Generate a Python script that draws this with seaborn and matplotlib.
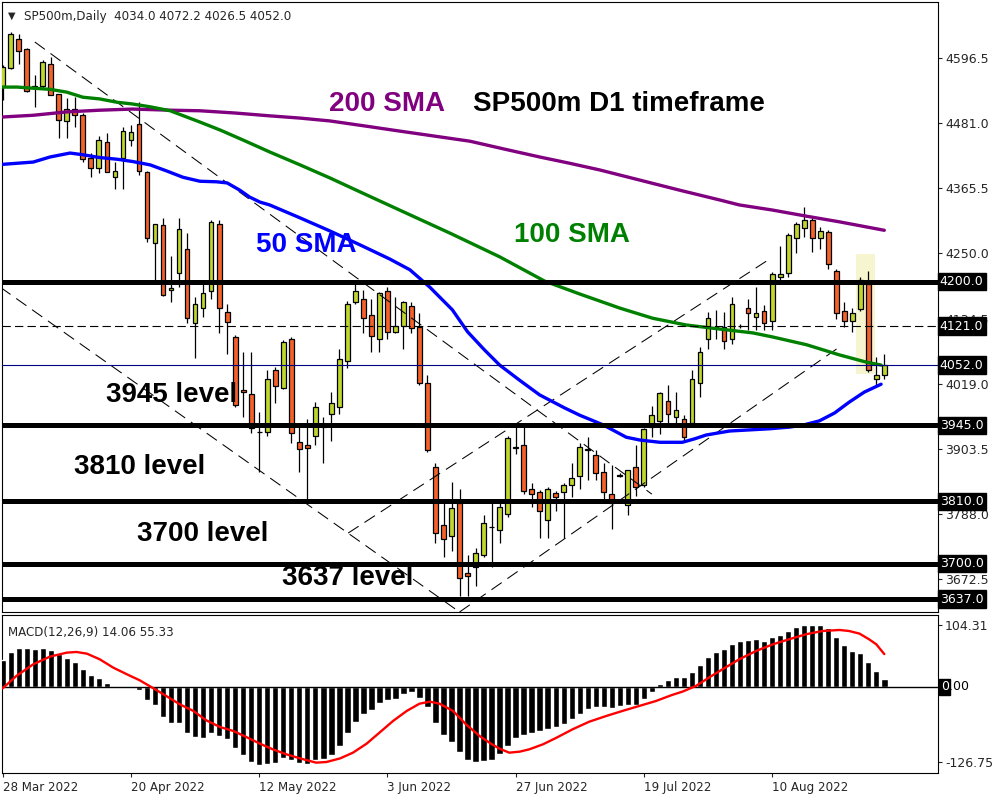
import numpy as np
import pandas as pd
import matplotlib
matplotlib.use("Agg")
import matplotlib.pyplot as plt
import seaborn as sns
from matplotlib.transforms import blended_transform_factory

# daily candles, bar index 0 = 28 Mar 2022
OPEN = [4547, 4579, 4630, 4612, 4547, 4547, 4586, 4532, 4484, 4506,
        4495, 4419, 4401, 4447, 4385, 4419, 4452, 4479, 4394, 4268,
        4300, 4185, 4216, 4257, 4126, 4154, 4183, 4302, 4146, 4101,
        4007, 4000, 3934, 3933, 4043, 4012, 4098, 3915, 3911, 3927,
        3943, 3966, 3977, 4059, 4163, 4169, 4140, 4098, 4183, 4110,
        4122, 4156, 4119, 4021, 3872, 3769, 3748, 3808, 3684, 3693,
        3715, 3764, 3759, 3787, 3906, 3910, 3833, 3826, 3778, 3825,
        3826, 3839, 3855, 3903, 3892, 3862, 3824, 3857, 3803, 3871,
        3839, 3943, 3953, 3988, 3959, 3957, 3950, 4020, 4099, 4119,
        4119, 4099, 4121, 4154, 4138, 4147, 4130, 4208, 4215, 4277,
        4295, 4309, 4277, 4288, 4218, 4147, 4130, 4151, 4195, 4027,
        4034.0]
HIGH = [4584, 4643, 4639, 4614, 4566, 4593, 4598, 4533, 4525, 4527,
        4499, 4428, 4458, 4463, 4412, 4475, 4477, 4518, 4397, 4303,
        4312, 4245, 4312, 4287, 4172, 4197, 4310, 4309, 4161, 4106,
        4075, 4075, 3968, 4043, 4048, 4096, 4101, 3945, 3956, 3986,
        3959, 4004, 4080, 4165, 4197, 4185, 4169, 4181, 4190, 4172,
        4165, 4163, 4145, 4034, 3878, 3808, 3844, 3833, 3715, 3727,
        3786, 3808, 3808, 3926, 3945, 3945, 3842, 3830, 3835, 3828,
        3842, 3878, 3913, 3924, 3901, 3879, 3874, 3860, 3865, 3910,
        3940, 3979, 4004, 4016, 4004, 3963, 4044, 4084, 4146, 4149,
        4146, 4172, 4124, 4170, 4190, 4158, 4217, 4263, 4286, 4305,
        4332, 4312, 4296, 4291, 4222, 4163, 4153, 4208, 4218, 4066,
        4072.2]
LOW = [4522, 4577, 4586, 4536, 4510, 4543, 4531, 4454, 4454, 4475,
       4412, 4385, 4392, 4394, 4365, 4365, 4440, 4389, 4270, 4202,
       4175, 4163, 4190, 4126, 4064, 4138, 4169, 4108, 4071, 3977,
       3959, 3931, 3862, 3926, 3984, 4009, 3913, 3862, 3812, 3911,
       3878, 3918, 3966, 4046, 4161, 4108, 4075, 4075, 4099, 4108,
       4080, 4108, 4016, 3897, 3736, 3711, 3723, 3643, 3642, 3661,
       3711, 3693, 3736, 3782, 3895, 3824, 3801, 3745, 3746, 3794,
       3745, 3818, 3833, 3849, 3849, 3807, 3762, 3853, 3786, 3819,
       3835, 3924, 3929, 3942, 3942, 3918, 3947, 3995, 4080, 4098,
       4080, 4090, 4118, 4114, 4114, 4115, 4115, 4202, 4208, 4250,
       4279, 4253, 4257, 4222, 4133, 4119, 4110, 4147, 4039, 4013,
       4026.5]
CLOSE = [4581, 4639, 4609, 4538, 4545, 4589, 4531, 4486, 4507, 4495,
         4417, 4401, 4451, 4394, 4396, 4467, 4465, 4396, 4277, 4302,
         4177, 4188, 4293, 4135, 4160, 4179, 4305, 4153, 4128, 3981,
         4004, 3940, 3933, 4027, 4014, 4092, 3931, 3903, 3904, 3977,
         3942, 3984, 4062, 4161, 4183, 4135, 4103, 4179, 4110, 4122,
         4163, 4117, 4020, 3901, 3755, 3743, 3798, 3675, 3677, 3718,
         3771, 3764, 3801, 3922, 3905, 3828, 3823, 3793, 3832, 3818,
         3839, 3851, 3906, 3902, 3860, 3826, 3807, 3856, 3865, 3835,
         3938, 3963, 4002, 3966, 3972, 3924, 4027, 4075, 4135, 4117,
         4094, 4160, 4121, 4145, 4144, 4126, 4213, 4213, 4282, 4303,
         4309, 4277, 4289, 4231, 4144, 4130, 4144, 4202, 4043, 4034,
         4052.0]

# moving averages (bar index, price)
SMA50_X = [0, 3.8, 5.9, 8.4, 10.0, 12.1, 14.3, 16.2, 18.4, 20.5, 22.5, 24.6,
           26.7, 28.0, 29.6, 30.8, 32.1, 33.3, 37.1, 40.8, 44.6, 48.3, 50.8,
           53.3, 56.1, 58.0, 60.1, 62.0, 64.5, 67.0, 70.1, 72.0, 74.9, 77.8,
           79.5, 82.0, 84.8, 86.3, 87.8, 90.7, 93.2, 95.7, 98.2, 100.0, 101.9,
           103.8, 105.6, 107.5, 109.6]
SMA50_Y = [4408, 4412, 4421, 4428, 4425, 4420, 4417, 4413, 4407, 4396, 4385,
           4378, 4377, 4375, 4362, 4350, 4341, 4336, 4313, 4290, 4265, 4240,
           4221, 4190, 4150, 4111, 4079, 4052, 4025, 3999, 3976, 3963, 3946,
           3924, 3919, 3915, 3915, 3921, 3928, 3935, 3937, 3939, 3942, 3946,
           3953, 3967, 3986, 4004, 4018]
SMA100_X = [0, 1.8, 3.8, 5.9, 8.0, 10.0, 12.1, 14.3, 16.2, 18.4, 20.9, 24.6,
            27.1, 30.0, 33.3, 37.1, 40.8, 44.6, 49.5, 55.8, 62.0, 67.6, 72.0,
            77.0, 81.1, 85.3, 89.4, 93.6, 96.0, 100.3, 104.4, 107.8, 109.6]
SMA100_Y = [4545, 4545, 4543, 4541, 4536, 4527, 4524, 4518, 4515, 4510, 4503,
            4483, 4469, 4451, 4430, 4407, 4384, 4359, 4327, 4286, 4244, 4201,
            4178, 4153, 4135, 4123, 4116, 4109, 4102, 4088, 4070, 4057, 4052]
SMA200_X = [0, 3.8, 8.0, 12.1, 16.2, 20.9, 24.6, 29.0, 33.3, 37.1, 40.8, 45.2,
            49.5, 53.9, 58.3, 62.6, 67.0, 70.7, 74.5, 79.5, 84.5, 89.4, 91.9,
            96.0, 100.3, 104.4, 110.0]
SMA200_Y = [4492, 4495, 4501, 4504, 4506, 4504, 4503, 4499, 4494, 4490, 4485,
            4476, 4467, 4458, 4449, 4435, 4421, 4410, 4398, 4380, 4362, 4345,
            4336, 4327, 4316, 4306, 4291]

# MACD(12,26,9)
MACD_HIST = [44.9, 58.9, 65.6, 65.6, 63.4, 65.6, 61.7, 56.1, 49.4, 42.1,
             29.7, 20.2, 14.6, 6.7, 1.0, -0.5, -1.0, -5.6, -21.3, -30.9,
             -49.9, -61.1, -61.1, -76.9, -83.6, -86.4, -76.9, -81.9, -88.1, -103.2,
             -114.4, -125.7, -131.0, -130.0, -128.0, -118.9, -123.4, -128.0, -129.0, -123.4,
             -120.6, -114.4, -99.3, -78.0, -58.3, -46.0, -38.7, -27.5, -22.4, -19.6,
             -11.2, -9.0, -18.0, -33.7, -60.0, -80.8, -92.0, -108.8, -122.9, -126.0,
             -124.5, -122.9, -112.0, -99.3, -85.3, -80.8, -77.4, -74.1, -70.1, -66.8,
             -61.7, -54.4, -44.9, -37.6, -33.7, -33.7, -35.9, -32.0, -30.9, -29.7,
             -20.8, -7.9, 4.5, 11.2, 16.8, 16.8, 25.8, 37.0, 50.5, 58.9,
             63.4, 71.8, 76.9, 78.5, 80.2, 77.4, 84.2, 87.5, 94.2, 101.0,
             104.31, 104.31, 104.31, 99.9, 84.2, 70.7, 60.6, 57.2, 42.1, 26.9,
             14.06]
SIGNAL_X = [0, 1.7, 3.8, 5.9, 8.0, 9.2, 10.5, 12.1, 13.8, 15.5, 17.1, 18.8,
            20.4, 22.1, 23.8, 25.4, 27.1, 28.8, 30.4, 32.1, 33.7, 35.4, 37.1,
            39.1, 40.4, 42.1, 43.7, 45.4, 47.0, 48.7, 50.4, 52.0, 53.3, 54.5,
            56.2, 57.8, 59.5, 61.0, 62.0, 63.2, 64.5, 65.7, 67.4, 69.1, 71.1,
            73.2, 75.3, 77.3, 79.4, 81.5, 83.5, 84.8, 86.5, 88.1, 89.8, 91.9,
            94.0, 96.1, 98.1, 100.2, 102.3, 104.4, 105.6, 106.9, 108.1, 109.0,
            110.0]
SIGNAL_Y = [-2.2, 18.5, 38.1, 51.1, 57.8, 58.9, 56.1, 46.6, 32.5, 21.3, 11.2,
            -2.2, -15.1, -29.2, -40.4, -56.1, -67.3, -74.1, -84.2, -95.4, -104.9,
            -113.3, -120.1, -127.3, -126.2, -120.1, -110.5, -95.4, -76.9, -57.2,
            -40.4, -28.1, -24.7, -28.1, -40.4, -62.8, -82.5, -96.0, -103.8,
            -110.5, -108.8, -104.9, -96.5, -85.3, -71.2, -58.3, -48.8, -40.4,
            -32.0, -23.6, -13.5, -7.9, 1.7, 15.7, 29.7, 46.6, 60.6, 71.8, 80.2,
            88.6, 94.2, 95.9, 94.2, 89.8, 80.2, 71.8, 55.33]

LEVELS = [4200.0, 3945.0, 3810.0, 3700.0, 3637.0]
DASHED_LEVEL = 4121.0
LAST_PRICE = 4052.0
PRICE_TICKS = [4596.5, 4481.0, 4365.5, 4250.0, 4134.5, 4019.0, 3903.5, 3788.0, 3672.5]
MACD_TICKS = [104.31, -126.75]
DATE_POS = [0, 16, 32, 48, 64, 80, 96]
DATE_LABELS = ["28 Mar 2022", "20 Apr 2022", "12 May 2022", "3 Jun 2022",
               "27 Jun 2022", "19 Jul 2022", "10 Aug 2022"]
# trendlines: (bar0, price0, bar1, price1)
TRENDLINES = [(4.0, 4625, 81.0, 3823),
              (-0.3, 4190, 57.0, 3614),
              (57.0, 3614, 104.6, 4086),
              (43.1, 3754, 95.9, 4242)]
HIGHLIGHT = (106.5, 108.8, 4036, 4249)

GREEN = "#c2d52e"
ORANGE = "#f2622a"

sns.set_style("white")
plt.rcParams["font.family"] = ["DejaVu Sans"]
plt.rcParams["lines.scale_dashes"] = False

fig = plt.figure(figsize=(10, 8), dpi=100)
ax = fig.add_axes([0.002, 0.235, 0.936, 0.7625])
axm = fig.add_axes([0.002, 0.03375, 0.936, 0.1975])

df = pd.DataFrame({"o": OPEN, "h": HIGH, "l": LOW, "c": CLOSE})
x = np.arange(len(df))
up = df.c >= df.o

# highlight box behind the last big candle
ax.add_patch(plt.Rectangle((HIGHLIGHT[0], HIGHLIGHT[2]), HIGHLIGHT[1] - HIGHLIGHT[0],
                           HIGHLIGHT[3] - HIGHLIGHT[2], facecolor="#f7f5cf",
                           edgecolor="none", zorder=1))

ax.vlines(x, df.l, df.h, color="black", lw=0.9, zorder=3)
ax.bar(x, (df.c - df.o).abs(), bottom=df[["o", "c"]].min(axis=1), width=0.6,
       color=np.where(up, GREEN, ORANGE), edgecolor="black", linewidth=0.9, zorder=4)

for x0, y0, x1, y1 in TRENDLINES:
    ax.plot([x0, x1], [y0, y1], color="black", lw=0.75, ls=(0, (9, 5)), zorder=5)

sns.lineplot(x=SMA200_X, y=SMA200_Y, ax=ax, color="#800080", lw=2.4, zorder=6)
sns.lineplot(x=SMA100_X, y=SMA100_Y, ax=ax, color="#008000", lw=2.4, zorder=6)
sns.lineplot(x=SMA50_X, y=SMA50_Y, ax=ax, color="#0000ff", lw=2.4, zorder=6)

for lvl in LEVELS:
    ax.axhline(lvl, color="black", lw=3.6, zorder=7)
ax.axhline(DASHED_LEVEL, color="black", lw=0.8, ls=(0, (6, 3)), zorder=7)
ax.axhline(LAST_PRICE, color="#000080", lw=0.8, zorder=7)

big = dict(family="Liberation Sans", weight="bold", fontsize=20, ha="center",
           va="center", zorder=9)
ax.text(47.9, 4515, "200 SMA", color="#800080", **big)
ax.text(76.9, 4515, "SP500m D1 timeframe", color="black", **big)
ax.text(71.0, 4283, "100 SMA", color="#008000", **big)
ax.text(37.9, 4265, "50 SMA", color="#0000ff", **big)
ax.text(21.1, 3998, "3945 level", color="black", **big)
ax.text(17.1, 3872, "3810 level", color="black", **big)
ax.text(25.0, 3753, "3700 level", color="black", **big)
ax.text(43.1, 3675, "3637 level", color="black", **big)

ax.text(0.006, 0.985, "\u25bc", transform=ax.transAxes, fontsize=7, va="top")
ax.text(0.024, 0.987, "SP500m,Daily  4034.0 4072.2 4026.5 4052.0",
        transform=ax.transAxes, fontsize=8.6, va="top")

ax.set_xlim(-0.09, 116.7)
ax.set_ylim(3614.0, 4695.9)
ax.set_xticks([])
ax.yaxis.tick_right()
ax.set_yticks(PRICE_TICKS)
ax.set_yticklabels([f"{v:.1f}" for v in PRICE_TICKS])
ax.tick_params(axis="y", length=3, pad=2, labelsize=9, right=True, direction="out")
ax.set_xlabel("")
ax.set_ylabel("")

trans = blended_transform_factory(ax.transAxes, ax.transData)
for lvl in LEVELS + [DASHED_LEVEL, LAST_PRICE]:
    ax.text(1.002, lvl, f"{lvl:.1f}", transform=trans, color="white", fontsize=9,
            va="center", ha="left", clip_on=False, zorder=10,
            bbox=dict(boxstyle="square,pad=0.18", fc="black", ec="black"))

# MACD panel
axm.bar(x, MACD_HIST, width=0.8, color="black", zorder=3)
axm.axhline(0, color="black", lw=1, zorder=3)
sns.lineplot(x=SIGNAL_X, y=SIGNAL_Y, ax=axm, color="#ff0000", lw=1.7, zorder=4)
axm.text(0.006, 0.93, "MACD(12,26,9) 14.06 55.33", transform=axm.transAxes,
         fontsize=8.6, va="top")
axm.set_xlim(-0.09, 116.7)
axm.set_ylim(-144.7, 121.1)
axm.yaxis.tick_right()
axm.set_yticks(MACD_TICKS)
axm.set_yticklabels(["104.31", "-126.75"])
axm.tick_params(axis="y", length=3, pad=2, labelsize=9, right=True, direction="out")
mtrans = blended_transform_factory(axm.transAxes, axm.transData)
axm.text(1.003, 0, "0.00", transform=mtrans, color="black", fontsize=9, va="center",
         ha="left", clip_on=False, zorder=10)
axm.text(1.003, 0, "0", transform=mtrans, color="white", fontsize=9, va="center",
         ha="left", clip_on=False, zorder=11,
         bbox=dict(boxstyle="square,pad=0.12", fc="black", ec="black"))
axm.set_xticks(DATE_POS)
axm.set_xticklabels(DATE_LABELS, ha="left")
axm.tick_params(axis="x", length=3, pad=3, labelsize=8.6, bottom=True, direction="out")
axm.set_xlabel("")
axm.set_ylabel("")

for a in (ax, axm):
    for s in a.spines.values():
        s.set_color("black")
        s.set_linewidth(0.8)

fig.savefig("out.png", dpi=100)
